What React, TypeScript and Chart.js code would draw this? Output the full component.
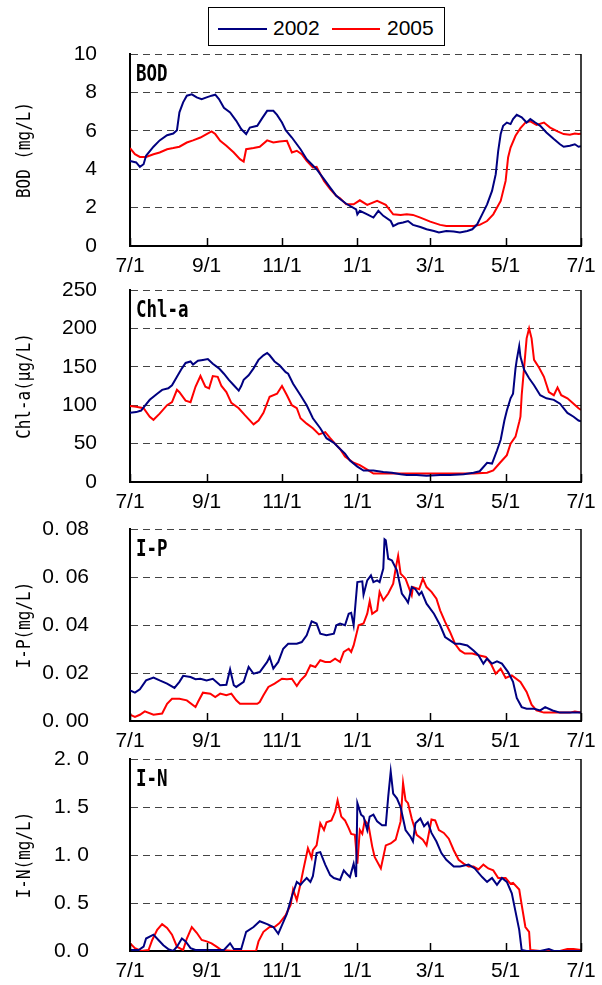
import { useEffect, useRef } from "react";
import { Chart, registerables } from "chart.js";

Chart.register(...registerables);

// ---- shared axis ----
const tickDays = [0, 62, 123, 184, 243, 304, 365];
const tickLabels = ["7/1", "9/1", "11/1", "1/1", "3/1", "5/1", "7/1"];
const seriesNames = ["2002", "2005"];
const seriesColors = ["#000080", "#ff0000"];

// ---- BOD (mg/L) ----
const bodDays2002 = [0,5,8,11,13,19,24,30,35,38,40,43,46,50,54,58,62,66,69,72,76,81,86,90,94,97,103,107,111,116,119,123,126,131,138,143,151,157,162,167,170,175,183,184,186,192,197,201,205,211,213,217,221,225,229,235,240,246,250,256,262,267,273,277,281,285,289,293,296,298,300,302,305,308,310,313,317,321,324,328,332,337,343,348,351,356,360,363,365];
const bod2002 = [4.43,4.35,4.12,4.26,4.7,5.17,5.5,5.77,5.86,6.03,6.96,7.48,7.83,7.9,7.74,7.65,7.74,7.83,7.88,7.65,7.2,6.96,6.52,6.09,5.83,6.17,6.26,6.66,7.04,7.04,6.83,6.43,6.03,5.65,5.04,4.52,4.0,3.48,3.04,2.61,2.45,2.2,1.91,1.65,1.83,1.65,1.48,1.83,1.57,1.3,1.04,1.17,1.22,1.3,1.1,0.99,0.87,0.78,0.7,0.78,0.75,0.7,0.78,0.87,1.13,1.65,2.17,2.87,3.74,4.96,5.83,6.26,6.43,6.35,6.61,6.83,6.7,6.43,6.61,6.43,6.26,5.91,5.57,5.3,5.17,5.22,5.3,5.17,5.2];
const bodDays2005 = [0,4,8,13,19,24,30,35,40,46,51,57,62,66,69,73,78,84,89,92,94,100,105,111,116,121,127,131,135,139,143,148,151,157,162,167,170,175,181,186,192,200,207,213,219,224,229,235,243,251,256,267,278,283,289,294,300,304,306,308,312,316,320,324,329,335,340,346,351,356,360,363,365];
const bod2005 = [5.1,4.78,4.64,4.64,4.78,4.87,5.04,5.1,5.17,5.39,5.5,5.65,5.83,5.97,5.83,5.48,5.22,4.87,4.52,4.4,5.04,5.1,5.17,5.5,5.39,5.44,5.48,4.87,4.96,4.78,4.43,4.09,4.12,3.39,2.96,2.61,2.49,2.17,2.17,2.38,2.14,2.35,2.14,1.65,1.62,1.65,1.62,1.48,1.27,1.1,1.04,1.04,1.04,1.1,1.3,1.65,2.35,3.39,4.61,5.13,5.74,6.14,6.43,6.49,6.31,6.43,6.17,5.97,5.83,5.79,5.86,5.83,5.85];

// ---- Chl-a (µg/L) ----
const chlDays2002 = [0,5,9,12,16,22,26,31,34,38,42,45,49,51,55,59,63,67,72,76,80,84,88,90,92,96,100,104,108,111,113,117,121,126,128,132,138,143,148,154,159,165,170,174,178,184,189,197,205,212,219,224,232,240,251,259,270,278,283,289,293,297,300,303,305,308,310,312,313,315,316,319,323,327,332,337,343,348,354,359,363,365];
const chl2002 = [90,91,93,99,107,115,120,122,126,137,148,155,157,153,158,159,160,154,148,141,133,126,119,125,133,139,148,159,165,168,165,157,152,143,141,128,113,100,83,70,57,51,43,37,28,20,15,15,13,12,10,9,9,8,9,9,10,12,14,25,24,41,55,80,93,109,115,148,159,177,163,146,135,126,113,109,107,102,90,85,80,79];
const chlDays2005 = [0,5,11,16,19,24,30,34,38,40,45,49,53,57,61,64,67,71,74,78,82,88,93,100,104,108,113,119,123,127,131,135,138,143,148,153,158,162,167,170,174,181,186,192,197,208,224,251,278,289,294,300,305,308,312,315,316,317,319,321,323,325,327,331,335,339,343,346,349,354,359,363,365];
const chl2005 = [99,98,96,85,81,89,100,104,120,117,106,104,124,138,124,122,138,137,125,117,103,96,87,75,80,90,111,115,125,113,100,96,83,76,70,62,65,57,48,43,33,25,22,16,11,11,11,11,11,12,15,26,35,50,59,78,85,113,150,187,200,187,159,149,137,117,113,123,113,109,102,96,94];

// ---- I-P (mg/L) ----
const ipDays2002 = [0,4,8,13,19,24,30,36,40,43,49,53,57,62,67,73,78,81,84,86,92,96,100,105,111,113,116,120,124,128,131,135,139,143,147,151,154,159,165,167,170,174,177,179,181,184,188,189,192,195,197,200,202,205,206,207,209,212,216,220,223,225,228,231,234,236,240,246,251,255,259,263,267,273,278,282,286,289,293,297,301,306,310,313,317,321,327,332,336,342,348,356,365];
const ip2002 = [0.0128,0.0118,0.0132,0.0169,0.0181,0.0169,0.0156,0.0138,0.0163,0.0188,0.0183,0.0174,0.0176,0.0169,0.0176,0.0149,0.0151,0.0215,0.0149,0.0142,0.0163,0.0225,0.0197,0.0204,0.0246,0.0267,0.0218,0.0246,0.0301,0.0322,0.0322,0.0322,0.0329,0.0357,0.0415,0.0406,0.0364,0.0357,0.0364,0.0399,0.0406,0.0399,0.0447,0.0451,0.0399,0.0579,0.0582,0.0526,0.0586,0.0607,0.0579,0.0586,0.0579,0.0635,0.0757,0.0753,0.0676,0.0669,0.0628,0.0531,0.051,0.0493,0.0558,0.0549,0.0526,0.0538,0.0489,0.0447,0.0399,0.035,0.0336,0.0322,0.0322,0.0315,0.0294,0.0274,0.0239,0.026,0.0239,0.0249,0.0239,0.0204,0.0163,0.0096,0.0058,0.0051,0.0051,0.0044,0.0058,0.0044,0.0035,0.0035,0.0035];
const ipDays2005 = [0,4,8,12,19,26,30,34,40,46,53,55,59,65,69,73,78,82,86,89,94,103,105,108,112,117,123,127,131,135,138,142,146,150,154,158,162,166,170,173,177,179,181,185,189,192,194,196,200,202,205,209,213,215,217,219,223,225,228,229,234,237,240,244,248,251,255,259,263,267,271,277,282,288,292,296,300,304,309,316,321,325,329,335,346,356,360,365];
const ip2005 = [0.0026,0.0017,0.0026,0.004,0.0026,0.0031,0.0072,0.0093,0.0093,0.0086,0.0058,0.0079,0.0118,0.0114,0.01,0.0114,0.0107,0.0114,0.0086,0.0072,0.0072,0.0072,0.0079,0.0107,0.0142,0.0156,0.0176,0.0174,0.0176,0.0146,0.0169,0.019,0.0232,0.0225,0.0253,0.0246,0.0246,0.026,0.0246,0.0288,0.0301,0.0288,0.0315,0.0399,0.0406,0.0447,0.0499,0.0447,0.0461,0.0538,0.0503,0.0531,0.0572,0.0635,0.0688,0.0614,0.0593,0.0565,0.0524,0.0558,0.0549,0.0593,0.0558,0.0538,0.051,0.0461,0.0413,0.0371,0.0322,0.0294,0.0281,0.0281,0.0274,0.0267,0.0239,0.0197,0.0218,0.0179,0.019,0.0163,0.0121,0.0068,0.0044,0.0035,0.0035,0.0035,0.004,0.0035];

// ---- I-N (mg/L) ----
const inDays2002 = [0,7,11,13,19,23,27,31,35,38,42,45,49,53,62,69,76,81,84,90,94,100,105,111,116,120,123,127,131,135,138,140,143,146,148,151,154,158,162,165,170,173,175,178,181,183,184,187,189,192,194,197,200,204,207,209,211,213,216,219,223,227,229,231,235,238,241,244,248,252,256,262,267,274,279,285,289,293,297,301,305,309,312,315,317,321,332,339,343,365];
const in2002 = [0.01,0.01,0.045,0.13,0.17,0.115,0.06,0.02,0,0.045,0.13,0.1,0.03,0.01,0.01,0.01,0.01,0.08,0.02,0.02,0.2,0.25,0.31,0.28,0.25,0.18,0.27,0.39,0.57,0.72,0.69,0.72,0.76,0.72,0.78,1.02,1.03,0.9,0.79,0.76,0.74,0.84,0.81,0.77,0.91,0.77,1.54,1.42,1.4,1.26,1.4,1.42,1.35,1.31,1.31,1.61,1.87,1.64,1.59,1.5,1.26,1.19,1.14,1.33,1.38,1.3,1.34,1.23,1.14,1.02,0.95,0.88,0.88,0.9,0.86,0.77,0.72,0.76,0.69,0.76,0.72,0.6,0.41,0.22,0.01,0,0,0.02,0,0];
const inDays2005 = [0,4,9,15,18,22,26,30,34,38,43,46,50,54,58,62,66,70,74,84,94,102,104,108,113,117,121,126,130,132,135,138,140,144,147,148,151,154,157,159,163,166,168,171,174,177,179,182,184,186,188,190,193,196,198,203,207,211,215,219,221,223,225,228,232,237,240,244,247,250,254,258,262,266,270,274,278,282,286,290,294,298,304,308,310,315,317,320,323,324,332,348,354,359,365];
const in2005 = [0.08,0.03,0,0.01,0.115,0.22,0.28,0.24,0.17,0.045,0.01,0.13,0.25,0.19,0.115,0.1,0.08,0.045,0.01,0,0,0,0.1,0.2,0.25,0.25,0.29,0.375,0.48,0.64,0.53,0.7,0.83,1.07,0.97,1.05,1.1,1.33,1.26,1.34,1.36,1.45,1.57,1.4,1.36,1.28,1.22,1.21,0.91,1.26,1.22,1.36,1.31,1.09,0.98,0.86,1.1,1.12,1.16,1.35,1.75,1.57,1.54,1.38,1.21,1.16,1.1,1.37,1.36,1.26,1.23,1.17,1.05,0.95,0.91,0.88,0.88,0.85,0.9,0.86,0.84,0.76,0.76,0.7,0.71,0.64,0.48,0.25,0.2,0.01,0,0,0.02,0.02,0.01];

// ---- layout / styling ----
const TICK_FONT = '"Liberation Sans", Arial, sans-serif';
const MONO_FONT = '"DejaVu Sans Mono", "Liberation Mono", monospace';
const PAD_TOP = 14;
const PLOT_H = 192;
const X_AXIS_H = 34;
const CANVAS_W = 602;
const CANVAS_H = PAD_TOP + PLOT_H + X_AXIS_H;

type Series = { days: number[]; values: number[] };
type PanelSpec = {
  key: string;
  plotTop: number;
  label: string;
  title: string;
  max: number;
  step: number;
  decimals: number;
  labelPad: number;
  series: Series[];
};

const panels: PanelSpec[] = [
  { key: "bod", plotTop: 54, label: "BOD", title: "BOD (mg/L)", max: 10, step: 2, decimals: 0, labelPad: 33,
    series: [{ days: bodDays2002, values: bod2002 }, { days: bodDays2005, values: bod2005 }] },
  { key: "chl", plotTop: 290, label: "Chl-a", title: "Chl-a(μg/L)", max: 250, step: 50, decimals: 0, labelPad: 33,
    series: [{ days: chlDays2002, values: chl2002 }, { days: chlDays2005, values: chl2005 }] },
  { key: "ip", plotTop: 529, label: "I-P", title: "I-P(mg/L)", max: 0.08, step: 0.02, decimals: 2, labelPad: 41,
    series: [{ days: ipDays2002, values: ip2002 }, { days: ipDays2005, values: ip2005 }] },
  { key: "in", plotTop: 759, label: "I-N", title: "I-N(mg/L)", max: 2, step: 0.5, decimals: 1, labelPad: 41,
    series: [{ days: inDays2002, values: in2002 }, { days: inDays2005, values: in2005 }] },
];

// Inner tick marks, right frame, panel name and rotated axis title.
const panelDecor = {
  id: "panelDecor",
  afterDraw(chart: any, _args: any, opts: any) {
    const { ctx, chartArea } = chart;
    const { left, right, top, bottom } = chartArea;
    const xs = chart.scales.x;
    ctx.save();
    ctx.strokeStyle = "#000";
    ctx.lineWidth = 1.5;
    tickDays.forEach((d) => {
      const x = Math.round(xs.getPixelForValue(d)) + 0.5;
      ctx.beginPath();
      ctx.moveTo(x, bottom);
      ctx.lineTo(x, bottom - 8);
      ctx.stroke();
    });
    ctx.beginPath();
    ctx.moveTo(right, top);
    ctx.lineTo(right, bottom);
    ctx.stroke();

    ctx.fillStyle = "#000";
    ctx.save();
    ctx.translate(left + 6, top + 27);
    ctx.scale(0.76, 1);
    ctx.font = `bold 23px ${MONO_FONT}`;
    ctx.textBaseline = "alphabetic";
    ctx.textAlign = "left";
    ctx.fillText(opts.label, 0, 0);
    ctx.restore();

    ctx.save();
    ctx.translate(25, (top + bottom) / 2);
    ctx.rotate(-Math.PI / 2);
    ctx.scale(0.84, 1);
    ctx.font = `19px ${MONO_FONT}`;
    ctx.textAlign = "center";
    ctx.textBaseline = "middle";
    ctx.fillText(opts.title, 0, 0);
    ctx.restore();
    ctx.restore();
  },
};

function formatTick(v: number, decimals: number) {
  if (decimals === 0) return String(Math.round(v));
  return v.toFixed(decimals).replace(".", ". ");
}

function Panel({ spec }: { spec: PanelSpec }) {
  const ref = useRef<HTMLCanvasElement>(null);
  useEffect(() => {
    const canvas = ref.current;
    if (!canvas) return;
    const chart = new Chart(canvas, {
      type: "line",
      data: {
        datasets: spec.series.map((s, i) => ({
          label: seriesNames[i],
          data: s.days.map((d, j) => ({ x: d, y: s.values[j] })),
          borderColor: seriesColors[i],
          backgroundColor: seriesColors[i],
          borderWidth: 2,
          pointRadius: 0,
          tension: 0,
          fill: false,
        })),
      },
      options: {
        animation: false,
        responsive: false,
        maintainAspectRatio: false,
        events: [],
        layout: { padding: { top: PAD_TOP, right: 21, left: 0, bottom: 0 } },
        plugins: {
          legend: { display: false },
          tooltip: { enabled: false },
          panelDecor: { label: spec.label, title: spec.title },
        },
        scales: {
          x: {
            type: "linear",
            min: 0,
            max: 365,
            afterBuildTicks: (scale: any) => {
              scale.ticks = tickDays.map((value) => ({ value }));
            },
            afterFit: (scale: any) => {
              scale.height = X_AXIS_H;
              scale.paddingLeft = 0;
              scale.paddingRight = 0;
            },
            grid: { display: false, drawTicks: false },
            border: { display: true, color: "#000", width: 2 },
            ticks: {
              autoSkip: false,
              maxRotation: 0,
              padding: 8,
              color: "#000",
              font: { family: TICK_FONT, size: 21 },
              callback: (_v: any, i: number) => tickLabels[i],
            },
          },
          y: {
            min: 0,
            max: spec.max,
            afterFit: (scale: any) => {
              scale.width = 130;
              scale.paddingTop = 0;
              scale.paddingBottom = 0;
            },
            grid: { color: "#444", lineWidth: 1, drawTicks: false, z: -1 },
            border: { display: true, color: "#000", width: 2, dash: [7, 5] },
            ticks: {
              stepSize: spec.step,
              padding: spec.labelPad,
              color: "#000",
              font: { family: TICK_FONT, size: 21 },
              callback: (v: any) => formatTick(Number(v), spec.decimals),
            },
          },
        },
      } as any,
      plugins: [panelDecor],
    });
    return () => chart.destroy();
  }, [spec]);
  return (
    <canvas
      ref={ref}
      width={CANVAS_W}
      height={CANVAS_H}
      style={{ position: "absolute", left: 0, top: spec.plotTop - PAD_TOP, width: CANVAS_W, height: CANVAS_H }}
    />
  );
}

function Legend() {
  const text = { position: "absolute" as const, top: 8, font: `21px ${TICK_FONT}`, lineHeight: "24px", color: "#000" };
  return (
    <div style={{ position: "absolute", left: 208, top: 7, width: 237, height: 39, border: "1px solid #000", boxSizing: "border-box", background: "#fff" }}>
      <div style={{ position: "absolute", left: 9, top: 20, width: 49, height: 2, background: seriesColors[0] }} />
      <span style={{ ...text, left: 64 }}>{seriesNames[0]}</span>
      <div style={{ position: "absolute", left: 123, top: 20, width: 48, height: 2, background: seriesColors[1] }} />
      <span style={{ ...text, left: 178 }}>{seriesNames[1]}</span>
    </div>
  );
}

export default function App() {
  return (
    <div style={{ position: "absolute", left: 0, top: 0, width: 602, height: 985, overflow: "hidden", background: "#fff" }}>
      <Legend />
      {panels.map((p) => (
        <Panel key={p.key} spec={p} />
      ))}
    </div>
  );
}
